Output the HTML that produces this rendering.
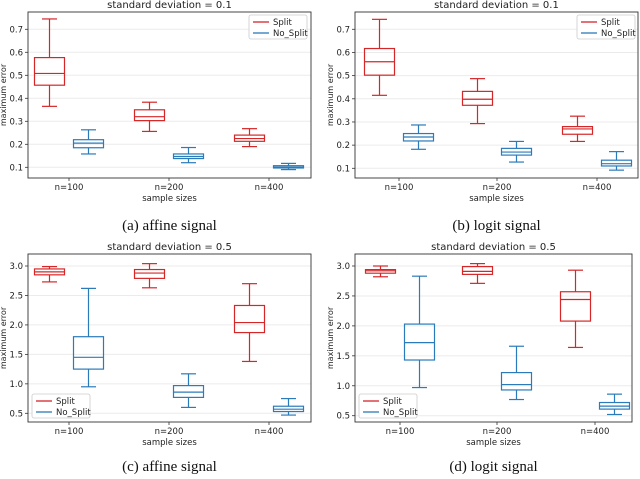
<!DOCTYPE html>
<html><head><meta charset="utf-8"><style>
body{margin:0;background:#fff;width:640px;height:479px;overflow:hidden}
svg{display:block}
text{font-family:"DejaVu Sans","Liberation Sans",sans-serif}
.cap{font-family:"Liberation Serif",serif;font-size:15px}
</style></head><body>
<svg id="fig" width="640" height="479" viewBox="0 0 640 479"></svg>
<script>
const categories = ["n=100","n=200","n=400"];
const seriesNames = ["Split","No_Split"];
// each box: [low whisker, q1, median, q3, high whisker]
const affine01Split = [[0.365,0.457,0.508,0.577,0.745],[0.256,0.303,0.32,0.35,0.383],[0.19,0.213,0.225,0.24,0.268]];
const affine01NoSplit = [[0.158,0.185,0.205,0.22,0.263],[0.12,0.138,0.147,0.158,0.186],[0.09,0.097,0.101,0.107,0.117]];
const logit01Split = [[0.415,0.502,0.56,0.617,0.743],[0.293,0.372,0.398,0.432,0.487],[0.216,0.247,0.27,0.28,0.325]];
const logit01NoSplit = [[0.182,0.218,0.235,0.25,0.287],[0.127,0.157,0.17,0.186,0.216],[0.092,0.11,0.12,0.135,0.172]];
const affine05Split = [[2.73,2.85,2.90,2.95,2.99],[2.63,2.79,2.88,2.94,3.04],[1.38,1.87,2.04,2.33,2.70]];
const affine05NoSplit = [[0.95,1.25,1.45,1.80,2.62],[0.60,0.77,0.86,0.97,1.17],[0.47,0.53,0.57,0.62,0.75]];
const logit05Split = [[2.82,2.88,2.92,2.94,3.0],[2.71,2.86,2.91,2.99,3.04],[1.64,2.08,2.44,2.57,2.93]];
const logit05NoSplit = [[0.97,1.43,1.72,2.03,2.83],[0.77,0.93,1.02,1.22,1.66],[0.52,0.61,0.66,0.72,0.86]];
const ticks01 = ["0.1","0.2","0.3","0.4","0.5","0.6","0.7"];
const ticks05 = ["0.5","1.0","1.5","2.0","2.5","3.0"];

const NS="http://www.w3.org/2000/svg";
const svg=document.getElementById('fig');
function mk(tag,attrs,parent,txt){const e=document.createElementNS(NS,tag);for(const k in attrs)e.setAttribute(k,attrs[k]);if(txt!==undefined)e.textContent=txt;(parent||svg).appendChild(e);return e;}
const COLORS=["#d62728","#2b7bba"];
function panel(cfg){
  const g=mk('g',{});
  
  
  const {L,R,T,B,v0,p0,v1,p1,cats}=cfg;
  const y=v=>p0+(v-v0)*(p1-p0)/(v1-v0);
  // grid + ticks
  cfg.ticks.forEach(t=>{const yy=y(parseFloat(t));
    const gl=mk('line',{x1:L,x2:R,y1:yy,y2:yy,stroke:'#ebebeb','stroke-width':1},g);
    
    mk('line',{x1:L-3,x2:L,y1:yy,y2:yy,stroke:'#333','stroke-width':0.8},g);
    const tl=mk('text',{x:L-5,y:yy+3,'font-size':8.5,'text-anchor':'end',fill:'#222'},g,t);
    
  });
  categories.forEach((c,i)=>{const xx=cats[i];
    mk('line',{x1:xx,x2:xx,y1:B,y2:B+3,stroke:'#333','stroke-width':0.8},g);
    const tl=mk('text',{x:xx,y:B+12,'font-size':8.5,'text-anchor':'middle',fill:'#222'},g,c);
    
  });
  [cfg.split,cfg.nosplit].forEach((ser,si)=>{
    ser.forEach((b,i)=>{
      const cx=cats[i]+(si===0?-19.5:19.5), w=30, cw=15, col=COLORS[si];
      const bg=mk('g',{stroke:col,'stroke-width':1.2,fill:'none'},g);
      
      
      mk('rect',{x:cx-w/2,y:y(b[3]),width:w,height:y(b[1])-y(b[3])},bg);
      mk('line',{x1:cx-w/2,x2:cx+w/2,y1:y(b[2]),y2:y(b[2])},bg);
      mk('line',{x1:cx,x2:cx,y1:y(b[3]),y2:y(b[4])},bg);
      mk('line',{x1:cx,x2:cx,y1:y(b[1]),y2:y(b[0])},bg);
      mk('line',{x1:cx-cw/2,x2:cx+cw/2,y1:y(b[4]),y2:y(b[4])},bg);
      mk('line',{x1:cx-cw/2,x2:cx+cw/2,y1:y(b[0]),y2:y(b[0])},bg);
    });
  });
  const fr=mk('rect',{x:L,y:T,width:R-L,height:B-T,fill:'none',stroke:'#333','stroke-width':0.9},g);
  
  const tt=mk('text',{x:(L+R)/2,y:T-4,'font-size':10,'text-anchor':'middle',fill:'#222'},g,cfg.title);
  
  const xt=mk('text',{x:(L+R)/2,y:B+23,'font-size':8.5,'text-anchor':'middle',fill:'#222'},g,'sample sizes');
  
  const ym=(T+B)/2;
  const yt=mk('text',{x:L-22,y:ym,'font-size':8,'text-anchor':'middle',fill:'#222',transform:`rotate(-90 ${L-22} ${ym})`},g,'maximum error');
  
  // legend
  const [lx,ly]=cfg.leg;
  const lg=mk('g',{},g);
  
  mk('rect',{x:lx,y:ly,width:58,height:24,rx:2,fill:'#fff',stroke:'#ccc','stroke-width':0.8},lg);
  seriesNames.forEach((s,i)=>{const yy=ly+7+i*11;
    mk('line',{x1:lx+4,x2:lx+20,y1:yy,y2:yy,stroke:COLORS[i],'stroke-width':1.3},lg);
    const le=mk('text',{x:lx+24,y:yy+3,'font-size':8.5,fill:'#222'},lg,s);
    
  });
  const cp=mk('text',{x:(L+R)/2,y:cfg.capY,'text-anchor':'middle',fill:'#111',class:'cap'},g,cfg.caption);
  
}
panel({name:'panel-a',L:28,R:311,T:12,B:178,v0:0.1,p0:167.3,v1:0.7,p1:29.3,cats:[69,169,269],ticks:ticks01,split:affine01Split,nosplit:affine01NoSplit,title:'standard deviation = 0.1',leg:[249,15],caption:'(a) affine signal',capY:230});
panel({name:'panel-b',L:355,R:638,T:12,B:178,v0:0.1,p0:168.3,v1:0.7,p1:29.3,cats:[399,497,597],ticks:ticks01,split:logit01Split,nosplit:logit01NoSplit,title:'standard deviation = 0.1',leg:[577,15],caption:'(b) logit signal',capY:230});
panel({name:'panel-c',L:28,R:311,T:254,B:422,v0:0.5,p0:413.3,v1:3.0,p1:266,cats:[69,169,269],ticks:ticks05,split:affine05Split,nosplit:affine05NoSplit,title:'standard deviation = 0.5',leg:[32,394],caption:'(c) affine signal',capY:471});
panel({name:'panel-d',L:355,R:632,T:254,B:422,v0:0.5,p0:415.7,v1:3.0,p1:266,cats:[400,497,595],ticks:ticks05,split:logit05Split,nosplit:logit05NoSplit,title:'standard deviation = 0.5',leg:[359,394],caption:'(d) logit signal',capY:471});
</script>
</body></html>
